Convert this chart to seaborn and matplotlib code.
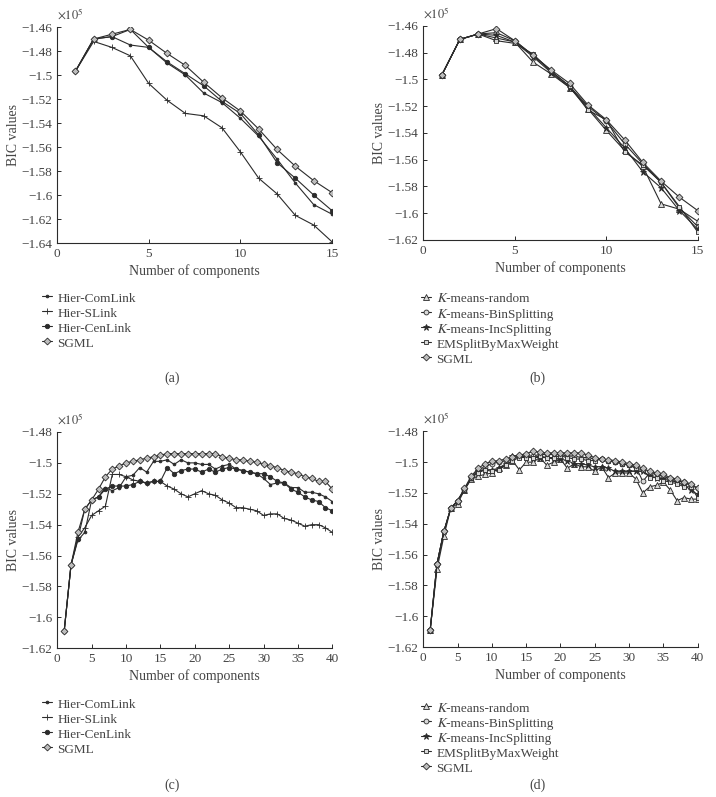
import numpy as np
import pandas as pd
import seaborn as sns
import matplotlib.pyplot as plt

sns.set_style("ticks")
plt.rcParams['font.family'] = ['Liberation Serif', 'STIXGeneral', 'DejaVu Serif']
plt.rcParams['mathtext.fontset'] = 'stix'
plt.rcParams['axes.unicode_minus'] = True

# ---- data (units of 1e5) ----
n15 = list(range(1, 16))
n40 = list(range(1, 41))

# (a) hierarchical vs SGML, 1..15 components
a_comlink = [-1.497, -1.470, -1.468, -1.475, -1.477, -1.490, -1.500, -1.515, -1.523, -1.536,
             -1.551, -1.570, -1.590, -1.608, -1.616]
a_slink = [-1.497, -1.472, -1.477, -1.484, -1.507, -1.521, -1.532, -1.534, -1.544, -1.564,
           -1.586, -1.599, -1.617, -1.625, -1.639]
a_cenlink = [-1.497, -1.470, -1.468, -1.462, -1.477, -1.489, -1.499, -1.509, -1.522, -1.532,
             -1.550, -1.573, -1.586, -1.600, -1.613]
a_sgml = [-1.497, -1.470, -1.466, -1.462, -1.471, -1.482, -1.492, -1.506, -1.519, -1.530,
          -1.545, -1.562, -1.576, -1.588, -1.598]

# (b) k-means variants vs SGML, 1..15 components
b_random = [-1.497, -1.470, -1.466, -1.469, -1.472, -1.487, -1.496, -1.506, -1.522, -1.538,
            -1.553, -1.565, -1.593, -1.597, -1.606]
b_binsplit = [-1.497, -1.470, -1.466, -1.465, -1.471, -1.482, -1.494, -1.505, -1.520, -1.531,
              -1.548, -1.563, -1.577, -1.596, -1.610]
b_incsplit = [-1.497, -1.470, -1.466, -1.467, -1.472, -1.483, -1.495, -1.506, -1.521, -1.536,
              -1.551, -1.569, -1.581, -1.598, -1.612]
b_emsplit = [-1.497, -1.470, -1.466, -1.471, -1.473, -1.481, -1.494, -1.505, -1.523, -1.530,
             -1.554, -1.564, -1.577, -1.595, -1.614]
b_sgml = [-1.497, -1.470, -1.466, -1.462, -1.471, -1.482, -1.493, -1.503, -1.519, -1.530,
          -1.545, -1.562, -1.576, -1.588, -1.598]

# (c) hierarchical vs SGML, 1..40 components
c_comlink = [-1.609, -1.566, -1.550, -1.545, -1.524, -1.522, -1.516, -1.518, -1.516, -1.509,
             -1.508, -1.503, -1.506, -1.499, -1.499, -1.498, -1.501, -1.498, -1.500, -1.500,
             -1.501, -1.501, -1.504, -1.502, -1.501, -1.504, -1.505, -1.506, -1.507, -1.510,
             -1.514, -1.513, -1.513, -1.516, -1.516, -1.519, -1.519, -1.520, -1.522, -1.525]
c_slink = [-1.609, -1.566, -1.548, -1.542, -1.534, -1.531, -1.528, -1.5075, -1.5075, -1.509,
           -1.511, -1.512, -1.513, -1.512, -1.512, -1.515, -1.517, -1.520, -1.522, -1.520,
           -1.518, -1.520, -1.521, -1.524, -1.526, -1.529, -1.529, -1.530, -1.531, -1.534,
           -1.533, -1.533, -1.536, -1.537, -1.539, -1.541, -1.540, -1.540, -1.542, -1.545]
c_cenlink = [-1.609, -1.566, -1.549, -1.530, -1.524, -1.522, -1.517, -1.515, -1.515, -1.515,
             -1.514, -1.512, -1.513, -1.512, -1.512, -1.503, -1.507, -1.505, -1.504, -1.504,
             -1.506, -1.504, -1.506, -1.504, -1.503, -1.504, -1.505, -1.506, -1.507, -1.507,
             -1.509, -1.512, -1.513, -1.517, -1.519, -1.522, -1.524, -1.525, -1.529, -1.531]
c_sgml = [-1.609, -1.566, -1.545, -1.530, -1.524, -1.517, -1.509, -1.504, -1.502, -1.500,
          -1.499, -1.498, -1.497, -1.496, -1.495, -1.494, -1.494, -1.494, -1.494, -1.494,
          -1.494, -1.494, -1.494, -1.496, -1.497, -1.498, -1.498, -1.499, -1.4995, -1.501,
          -1.502, -1.503, -1.505, -1.506, -1.507, -1.509, -1.510, -1.512, -1.512, -1.517]

# (d) k-means variants vs SGML, 1..40 components
d_random = [-1.609, -1.5695, -1.548, -1.530, -1.527, -1.518, -1.511, -1.509, -1.508, -1.507,
            -1.504, -1.502, -1.499, -1.505, -1.500, -1.500, -1.497, -1.502, -1.500, -1.498,
            -1.504, -1.501, -1.503, -1.503, -1.506, -1.503, -1.510, -1.507, -1.507, -1.507,
            -1.511, -1.520, -1.516, -1.515, -1.513, -1.518, -1.525, -1.523, -1.524, -1.524]
d_binsplit = [-1.609, -1.566, -1.545, -1.530, -1.525, -1.518, -1.510, -1.505, -1.503, -1.501,
              -1.500, -1.499, -1.498, -1.496, -1.496, -1.496, -1.495, -1.495, -1.495, -1.495,
              -1.496, -1.496, -1.497, -1.497, -1.498, -1.498, -1.499, -1.500, -1.501, -1.502,
              -1.503, -1.5125, -1.507, -1.508, -1.509, -1.511, -1.512, -1.513, -1.515, -1.517]
d_incsplit = [-1.609, -1.566, -1.545, -1.530, -1.525, -1.518, -1.510, -1.506, -1.505, -1.505,
              -1.504, -1.501, -1.496, -1.496, -1.4965, -1.497, -1.497, -1.497, -1.498, -1.498,
              -1.499, -1.501, -1.501, -1.502, -1.503, -1.503, -1.504, -1.506, -1.506, -1.506,
              -1.506, -1.506, -1.509, -1.510, -1.511, -1.512, -1.513, -1.515, -1.518, -1.521]
d_emsplit = [-1.609, -1.566, -1.545, -1.530, -1.525, -1.518, -1.510, -1.507, -1.505, -1.506,
             -1.505, -1.502, -1.499, -1.497, -1.497, -1.497, -1.496, -1.497, -1.497, -1.496,
             -1.497, -1.498, -1.498, -1.499, -1.499, -1.498, -1.499, -1.500, -1.501, -1.502,
             -1.504, -1.505, -1.510, -1.510, -1.512, -1.513, -1.514, -1.516, -1.516, -1.523]
d_sgml = [-1.609, -1.566, -1.545, -1.530, -1.525, -1.517, -1.509, -1.504, -1.501, -1.4995,
          -1.499, -1.498, -1.4965, -1.4955, -1.4945, -1.493, -1.4935, -1.494, -1.494, -1.494,
          -1.494, -1.494, -1.494, -1.4955, -1.497, -1.498, -1.4985, -1.499, -1.500, -1.501,
          -1.502, -1.504, -1.506, -1.507, -1.508, -1.510, -1.511, -1.513, -1.514, -1.517]

hier_labels = ["Hier-ComLink", "Hier-SLink", "Hier-CenLink", "SGML"]
# italic K via the mathematical italic capital K (falls back to STIXGeneral)
KI = "\U0001D43E"
km_labels = [KI + "-means-random", KI + "-means-BinSplitting", KI + "-means-IncSplitting",
             "EMSplitByMaxWeight", "SGML"]

INK = "#2b2b2b"
TXT = "#444444"
# marker, size, face colour
hier_style = [(".", 4, INK), ("+", 4, INK), ("o", 3.2, INK), ("D", 3.5, "#bdbdbd")]
km_style = [("^", 4, "#d9d9d9"), ("o", 3.5, "#d9d9d9"), ("*", 5, INK),
            ("s", 3.2, "#d9d9d9"), ("D", 3.5, "#bdbdbd")]


def fmt(v, pos):
    return ("%g" % v).replace("-", "\u2212")


def draw(ax, x, series, labels, styles, xmax, ylim, ystep, xstep):
    for y, lab, (m, ms, fc) in zip(series, labels, styles):
        sns.lineplot(x=x, y=y, ax=ax, color=INK, linewidth=0.8, marker=m, markersize=ms,
                     markerfacecolor=fc, markeredgecolor=INK, markeredgewidth=0.6,
                     label=lab, legend=False)
    ax.set_xlim(0, xmax)
    ax.set_ylim(*ylim)
    ax.set_xticks(np.arange(0, xmax + 0.1, xstep))
    ax.set_yticks(np.round(np.arange(ylim[0], ylim[1] + 1e-6, ystep), 3))
    ax.yaxis.set_major_formatter(plt.FuncFormatter(fmt))
    ax.tick_params(direction="in", length=3, width=0.7, colors=INK, labelsize=9.5,
                   labelcolor=TXT)
    for sp in ["top", "right"]:
        ax.spines[sp].set_visible(False)
    for sp in ["left", "bottom"]:
        ax.spines[sp].set_linewidth(0.8)
        ax.spines[sp].set_color(INK)
    ax.set_xlabel("Number of components", fontsize=10, color=TXT, labelpad=3)
    ax.set_ylabel("BIC values", fontsize=10, color=TXT, labelpad=1)
    ax.text(0.0, 1.02, r"$\times10^5$", transform=ax.transAxes, fontsize=9,
            color=TXT, ha="left", va="bottom")


fig = plt.figure(figsize=(7.16, 7.97), dpi=100)
ax_a = fig.add_axes([0.0796, 0.6951, 0.3841, 0.2710])
ax_b = fig.add_axes([0.5912, 0.6989, 0.3832, 0.2685])
ax_c = fig.add_axes([0.0800, 0.1866, 0.3841, 0.2714])
ax_d = fig.add_axes([0.5912, 0.1882, 0.3832, 0.2706])

draw(ax_a, n15, [a_comlink, a_slink, a_cenlink, a_sgml], hier_labels, hier_style,
     15, (-1.64, -1.46), 0.02, 5)
draw(ax_b, n15, [b_random, b_binsplit, b_incsplit, b_emsplit, b_sgml], km_labels, km_style,
     15, (-1.62, -1.46), 0.02, 5)
draw(ax_c, n40, [c_comlink, c_slink, c_cenlink, c_sgml], hier_labels, hier_style,
     40, (-1.62, -1.48), 0.02, 5)
draw(ax_d, n40, [d_random, d_binsplit, d_incsplit, d_emsplit, d_sgml], km_labels, km_style,
     40, (-1.62, -1.48), 0.02, 5)

for ax, anchor in [(ax_a, (0.0587, 0.6355)), (ax_b, (0.5880, 0.6343)),
                   (ax_c, (0.0587, 0.1261)), (ax_d, (0.5880, 0.1211))]:
    h, l = ax.get_legend_handles_labels()
    fig.legend(h, l, loc="upper left", bbox_to_anchor=anchor, frameon=False,
               fontsize=9.5, handlelength=0.75, handleheight=1.15, handletextpad=0.4,
               labelspacing=0.08, borderpad=0, borderaxespad=0, labelcolor=TXT)

for lab, x, y in [("(a)", 0.240, 0.526), ("(b)", 0.751, 0.526),
                  ("(c)", 0.240, 0.015), ("(d)", 0.751, 0.015)]:
    fig.text(x, y, lab, ha="center", va="center", fontsize=10, color=TXT)

fig.savefig("out.png", dpi=100)
